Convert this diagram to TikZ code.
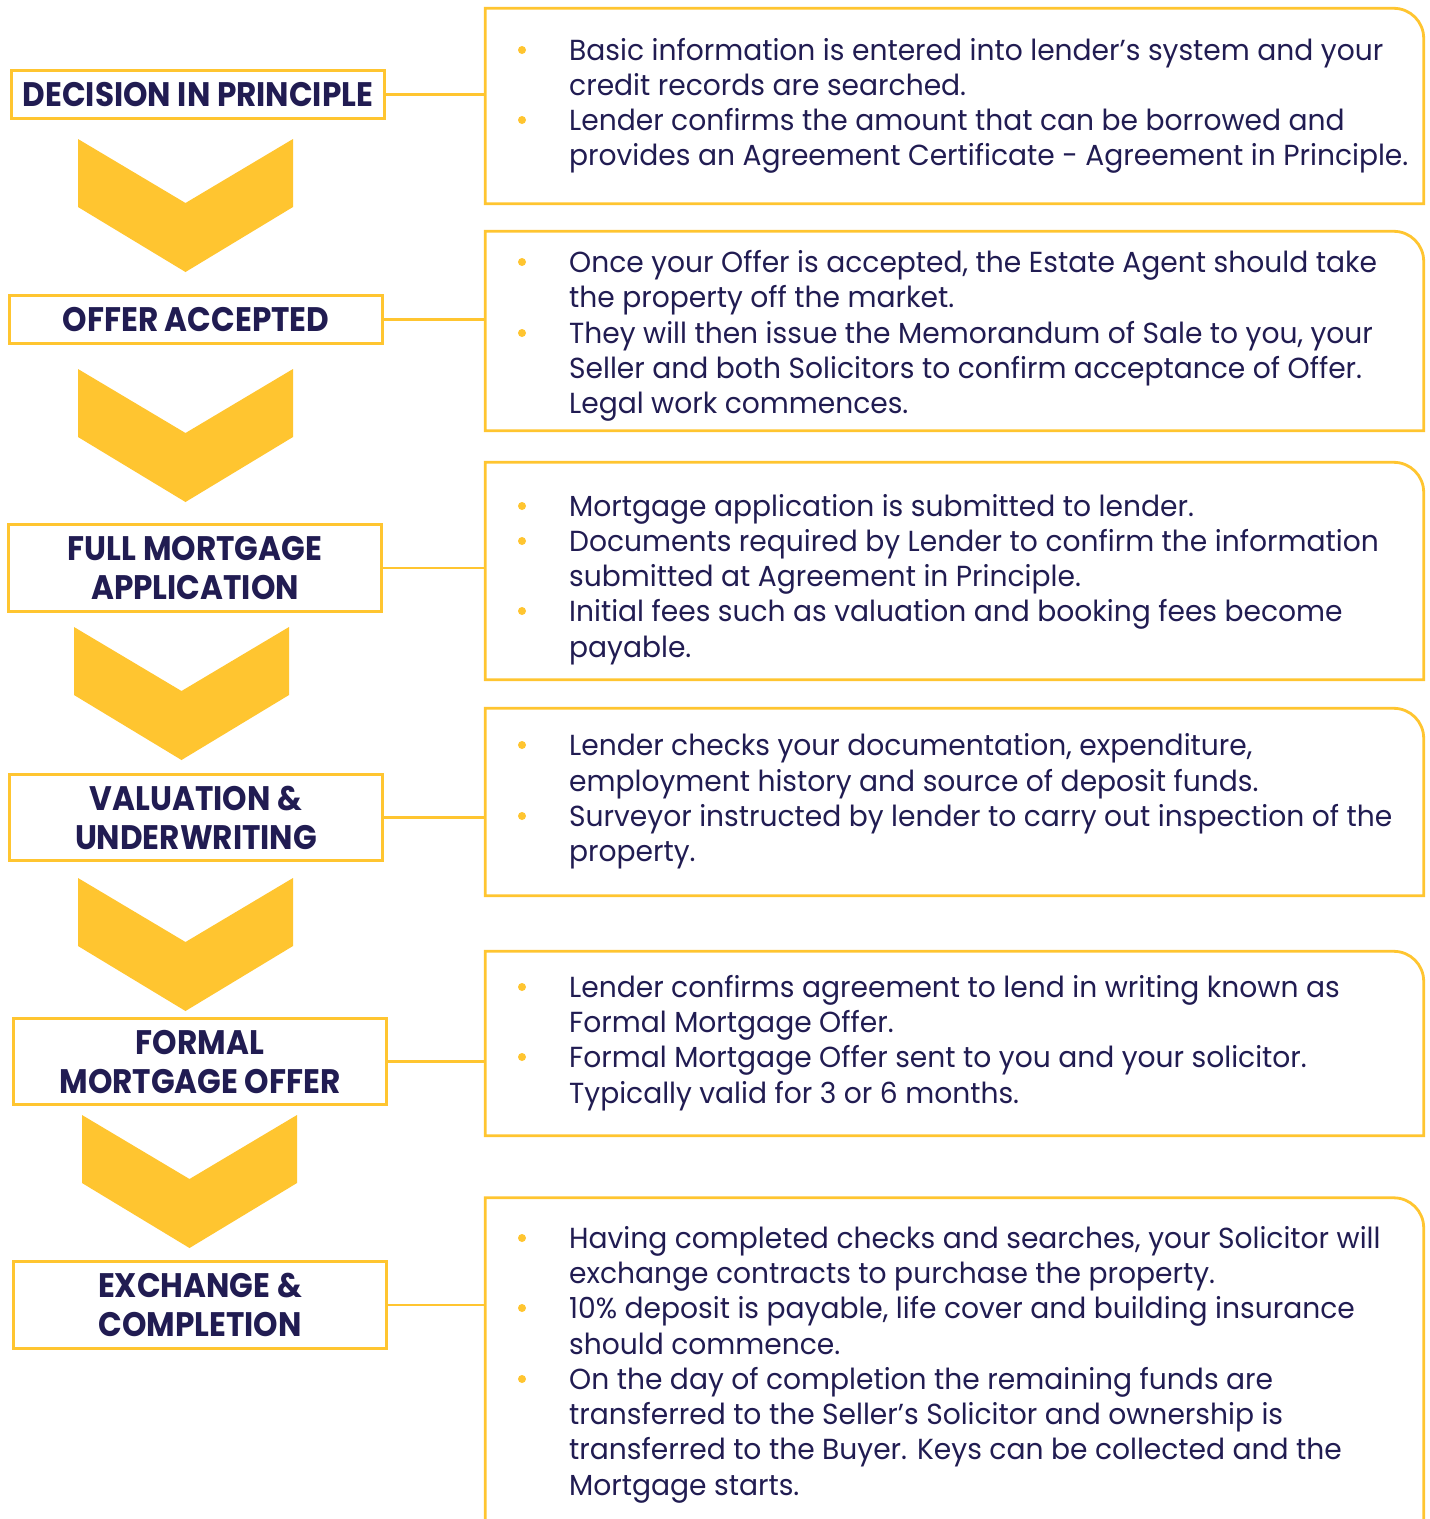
\documentclass[tikz,border=0pt]{standalone}
\usepackage{fontspec}
\setmainfont{Poppins}[FakeStretch=0.97]
\newfontfamily\titlefam{Poppins}[FakeStretch=0.915]
\usetikzlibrary{calc}
\definecolor{gold}{HTML}{FFC530}
\definecolor{navy}{HTML}{211C52}
\newcommand\bodyfnt{\fontsize{29}{35.2}\selectfont}
\newcommand\titlefnt{\titlefam\bfseries\fontsize{34}{39}\selectfont}
\tikzset{
  lbox/.style={draw=gold, line width=2.8pt, minimum width=373pt, inner sep=0pt,
    text=navy, font=\titlefnt, align=center},
  rbox/.style={inner sep=0pt, minimum width=938pt},
  border/.style={draw=gold, line width=2.8pt},
  conn/.style={draw=gold, line width=2.5pt},
  chevfill/.style={fill=gold},
  dot/.style={circle, fill=gold, minimum size=8pt, inner sep=0pt},
  txt/.style={anchor=base west, inner sep=0pt, text=navy, font=\bodyfnt},
}
\begin{document}
\begin{tikzpicture}[x=1pt,y=-1pt]
\clip (0,0) rectangle (1430,1519);
\fill[white] (0,0) rectangle (1430,1519);

% left step boxes
\node[lbox, minimum height=48pt] (l1) at (198,94.5) {DECISION IN PRINCIPLE};
\node[lbox, minimum height=48pt] (l2) at (196,319.5) {OFFER ACCEPTED};
\node[lbox, minimum height=87pt] (l3) at (195,568) {FULL MORTGAGE\\APPLICATION};
\node[lbox, minimum height=86pt] (l4) at (196,817.5) {VALUATION \&\\UNDERWRITING};
\node[lbox, minimum height=86pt] (l5) at (200,1061.5) {FORMAL\\MORTGAGE OFFER};
\node[lbox, minimum height=87pt] (l6) at (200,1305) {EXCHANGE \&\\COMPLETION};

% chevrons
\foreach \l/\t in {78/139, 78/369, 74/627, 78/878, 82/1115}
  \fill[chevfill] (\l,\t) -- ++(107.5,64) -- ++(107.5,-64) -- ++(0,68)
     -- ++(-107.5,65) -- ++(-107.5,-65) -- cycle;

% right detail boxes
\node[rbox, minimum height=195pt] (r1) at (954.5,106) {};
\node[rbox, minimum height=199pt] (r2) at (954.5,331) {};
\node[rbox, minimum height=217pt] (r3) at (954.5,571) {};
\node[rbox, minimum height=187pt] (r4) at (954.5,802) {};
\node[rbox, minimum height=184pt] (r5) at (954.5,1043.5) {};
\node[rbox, minimum height=340pt] (r6) at (954.5,1368) {};
\foreach \r in {r1,r2,r3,r4,r5,r6}
  \draw[border] (\r.south west) -- (\r.north west) -- ($(\r.north east)+(-30,0)$)
    .. controls ($(\r.north east)+(-13.4,0)$) and ($(\r.north east)+(0,13.4)$) .. ($(\r.north east)+(0,30)$)
    -- (\r.south east) -- cycle;

% connectors
\foreach \i in {1,...,6}
  \draw[conn] (l\i.east) -- (l\i.east -| r\i.west);

% box 1
\node[dot] (b11) at (522,50) {};
\node[dot] (b12) at (522,120) {};
\node[txt] (t11) at (569,60) {Basic information is entered into lender’s system and your};
\node[txt] (t12) at (569,95) {credit records are searched.};
\node[txt] (t13) at (569,130) {Lender confirms the amount that can be borrowed and};
\node[txt] (t14) at (569,165) {provides an Agreement Certificate - Agreement in Principle.};

% box 2
\node[dot] (b21) at (522,262) {};
\node[dot] (b22) at (522,333) {};
\node[txt] (t21) at (569,272) {Once your Offer is accepted, the Estate Agent should take};
\node[txt] (t22) at (569,307) {the property off the market.};
\node[txt] (t23) at (569,343) {They will then issue the Memorandum of Sale to you, your};
\node[txt] (t24) at (569,378) {Seller and both Solicitors to confirm acceptance of Offer.};
\node[txt] (t25) at (569,413) {Legal work commences.};

% box 3
\node[dot] (b31) at (522,506) {};
\node[dot] (b32) at (522,541) {};
\node[dot] (b33) at (522,611) {};
\node[txt] (t31) at (569,516) {Mortgage application is submitted to lender.};
\node[txt] (t32) at (569,551) {Documents required by Lender to confirm the information};
\node[txt] (t33) at (569,586) {submitted at Agreement in Principle.};
\node[txt] (t34) at (569,621) {Initial fees such as valuation and booking fees become};
\node[txt] (t35) at (569,657) {payable.};

% box 4
\node[dot] (b41) at (522,745) {};
\node[dot] (b42) at (522,816) {};
\node[txt] (t41) at (569,755) {Lender checks your documentation, expenditure,};
\node[txt] (t42) at (569,791) {employment history and source of deposit funds.};
\node[txt] (t43) at (569,826) {Surveyor instructed by lender to carry out inspection of the};
\node[txt] (t44) at (569,861) {property.};

% box 5
\node[dot] (b51) at (522,987) {};
\node[dot] (b52) at (522,1057) {};
\node[txt] (t51) at (569,997) {Lender confirms agreement to lend in writing known as};
\node[txt] (t52) at (569,1032) {Formal Mortgage Offer.};
\node[txt] (t53) at (569,1067) {Formal Mortgage Offer sent to you and your solicitor.};
\node[txt] (t54) at (569,1103) {Typically valid for 3 or 6 months.};

% box 6
\node[dot] (b61) at (522,1238) {};
\node[dot] (b62) at (522,1308) {};
\node[dot] (b63) at (522,1379) {};
\node[txt] (t61) at (569,1248) {Having completed checks and searches, your Solicitor will};
\node[txt] (t62) at (569,1283) {exchange contracts to purchase the property.};
\node[txt] (t63) at (569,1318) {10\% deposit is payable, life cover and building insurance};
\node[txt] (t64) at (569,1354) {should commence.};
\node[txt] (t65) at (569,1389) {On the day of completion the remaining funds are};
\node[txt] (t66) at (569,1424) {transferred to the Seller’s Solicitor and ownership is};
\node[txt] (t67) at (569,1459) {transferred to the Buyer. Keys can be collected and the};
\node[txt] (t68) at (569,1495) {Mortgage starts.};
\end{tikzpicture}
\end{document}
